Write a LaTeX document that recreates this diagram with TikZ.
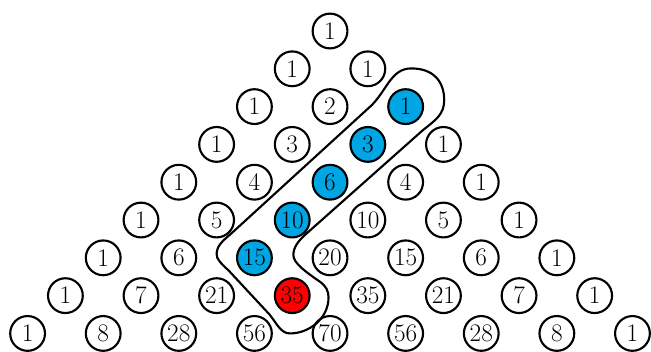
\documentclass[tikz,border=0pt]{standalone}
\definecolor{hsblue}{RGB}{0,165,228}
\definecolor{hsred}{RGB}{255,0,0}
\begin{document}
\begin{tikzpicture}[x=1cm,y=1cm,
  entry/.style={circle,draw,line width=1.6pt,minimum size=0.92cm,inner sep=0pt,font=\fontsize{19}{19}\selectfont},
  c2-2/.style={fill=hsblue}, c3-2/.style={fill=hsblue}, c4-2/.style={fill=hsblue},
  c5-2/.style={fill=hsblue}, c6-2/.style={fill=hsblue}, c7-3/.style={fill=hsred},
  outline/.style={line width=1.6pt,line join=round}]
\useasboundingbox (-8.73,0.82) rectangle (8.49,-8.47);
\foreach \n/\row in {0/{1},1/{1,1},2/{1,2,1},3/{1,3,3,1},4/{1,4,6,4,1},5/{1,5,10,10,5,1},6/{1,6,15,20,15,6,1},7/{1,7,21,35,35,21,7,1},8/{1,8,28,56,70,56,28,8,1}}{
  \foreach \v [count=\kk from 0] in \row {
    \node[entry,c\n-\kk/.try] (n\n-\kk) at ({2*\kk-\n},-\n) {\v};
  }
}
\draw[outline] (1.058,-2.003)
  .. controls (1.5,-1.6) and (1.6,-0.99) .. (2.15,-0.99)
  .. controls (2.75,-0.99) and (3.02,-1.35) .. (3.02,-1.83)
  .. controls (3.02,-2.2) and (2.8,-2.35) .. (2.46,-2.62)
  -- (-0.616,-5.352)
  .. controls (-0.85,-5.56) and (-0.97,-5.72) .. (-0.97,-5.93)
  .. controls (-0.97,-6.15) and (-0.6,-6.4) .. (-0.27,-6.63)
  .. controls (-0.1,-6.75) and (-0.04,-6.88) .. (-0.04,-7.05)
  .. controls (-0.04,-7.6) and (-0.55,-8.0) .. (-1.06,-8.0)
  .. controls (-1.3,-8.0) and (-1.4,-7.75) .. (-1.6,-7.5)
  -- (-2.65,-6.37)
  .. controls (-2.9,-6.12) and (-3.0,-6.05) .. (-3.0,-5.9)
  .. controls (-3.0,-5.65) and (-2.78,-5.51) .. (-2.55,-5.30)
  -- cycle;
\end{tikzpicture}
\end{document}
